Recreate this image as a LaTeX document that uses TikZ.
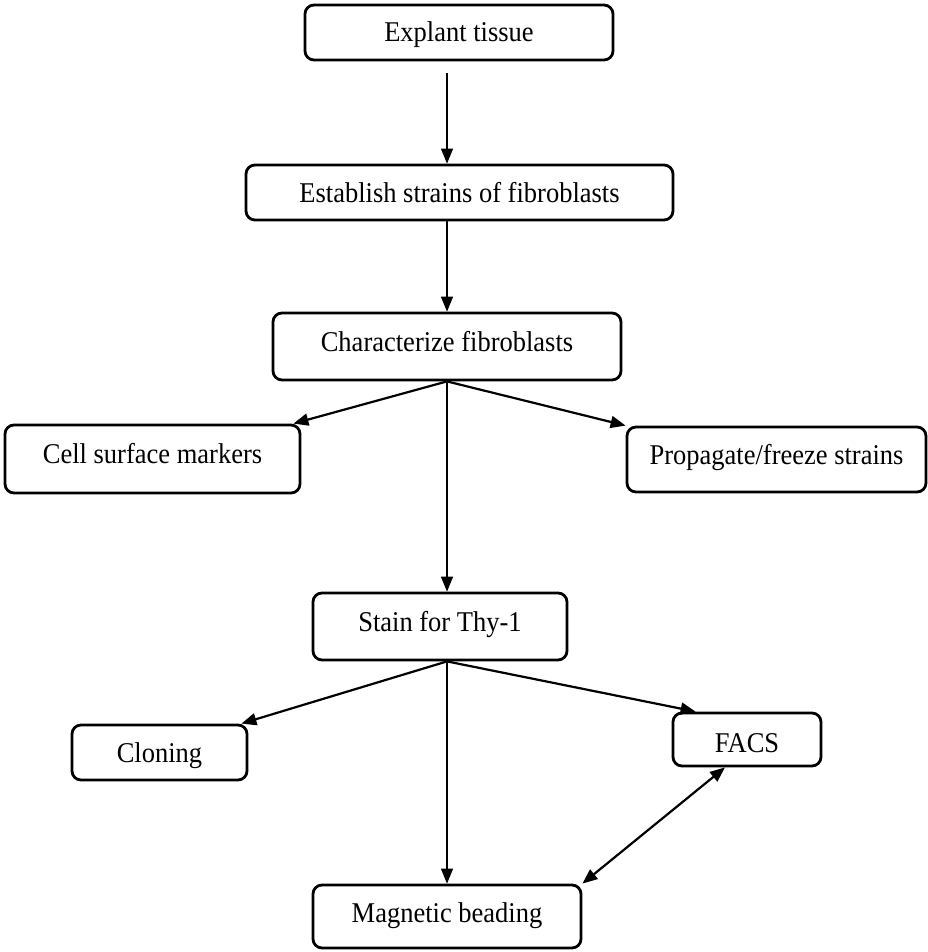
\documentclass[tikz,border=0pt]{standalone}
\usepackage{fontspec}
\usepackage{graphicx}
\setmainfont{Liberation Serif}
\usetikzlibrary{arrows.meta}
\newcommand{\bt}[1]{\scalebox{1}[1.08]{#1}}
\begin{document}
\begin{tikzpicture}[x=1pt,y=-1pt,
  box/.style={draw, line width=2.8pt, rounded corners=9pt, inner sep=0pt, text height=19pt, text depth=0pt, font=\fontsize{26.5}{30}\selectfont},
  up/.style={text depth=10pt},
  vline/.style={line width=1.4pt, -{Triangle[length=15pt,width=12pt]}},
  dline/.style={line width=2.2pt, -{Triangle[length=15pt,width=12pt]}},
  bline/.style={line width=2.2pt, {Triangle[length=15pt,width=12pt]}-{Triangle[length=15pt,width=12pt]}}]
\useasboundingbox (0,0) rectangle (927,952);
\node[box, minimum width=308pt, minimum height=55pt] (explant) at (459,32.5) {\bt{Explant tissue}};
\node[box, minimum width=427pt, minimum height=55pt] (establish) at (459.5,192.5) {\bt{Establish strains of fibroblasts}};
\node[box, up, minimum width=348pt, minimum height=67pt] (char) at (447,346.5) {\bt{Characterize fibroblasts}};
\node[box, up, minimum width=295pt, minimum height=68pt] (cell) at (152.5,459) {\bt{Cell surface markers}};
\node[box, up, minimum width=299pt, minimum height=65pt] (prop) at (776.5,459.5) {\bt{Propagate/freeze strains}};
\node[box, up, minimum width=254pt, minimum height=67pt] (stain) at (440,626.5) {\bt{Stain for Thy-1}};
\node[box, minimum width=175pt, minimum height=55pt] (clon) at (159.5,752.5) {\bt{Cloning}};
\node[box, text height=25pt, minimum width=148pt, minimum height=53pt] (facs) at (747,739.5) {\bt{FACS}};
\node[box, text depth=7pt, minimum width=268pt, minimum height=63pt] (mag) at (447,916.5) {\bt{Magnetic beading}};
\draw[vline, shorten <=12pt] (explant.south -| char.south) -- (char.south |- establish.north);
\draw[vline] (establish.south -| char.south) -- (char.north);
\draw[dline] (char.south) -- ([xshift=-8pt]cell.north east);
\draw[dline] (char.south) -- (prop.north west);
\draw[vline] (char.south) -- (char.south |- stain.north);
\draw[dline] (stain.south -| char.south) -- ([xshift=-7pt]clon.north east);
\draw[dline] (stain.south -| char.south) -- ([xshift=24pt]facs.north west);
\draw[vline] (stain.south -| char.south) -- (mag.north);
\draw[bline] ([xshift=-22pt]facs.south) -- (mag.north east);
\end{tikzpicture}
\end{document}
